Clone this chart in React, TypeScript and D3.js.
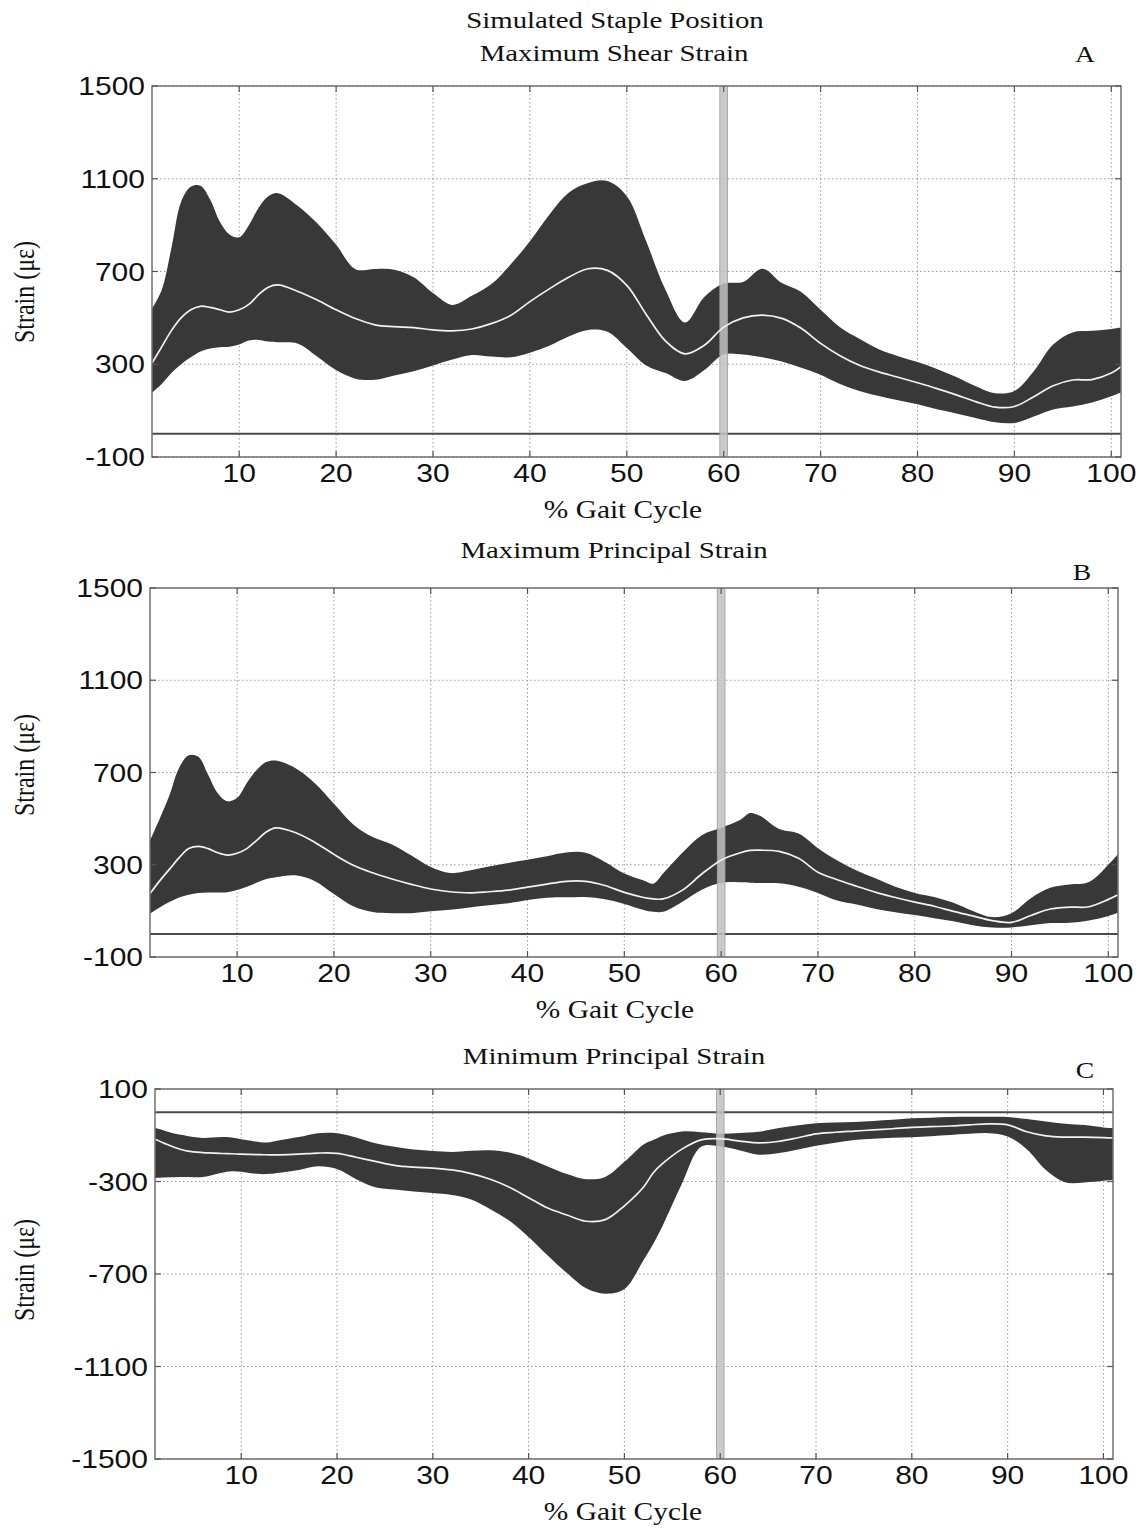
import React from 'react';
import * as d3 from 'd3';

// ---------- Data (gait %, strain in microstrain) ----------
const xTicks = [10, 20, 30, 40, 50, 60, 70, 80, 90, 100];
const yTicksAB = [-100, 300, 700, 1100, 1500];
const yTicksC = [100, -300, -700, -1100, -1500];

// Panel A: Maximum Shear Strain
const gaitA = [1,2,3,4,5,6,7,8,9,10,11,12,13,14,16,18,20,22,24,26,28,30,32,34,36,38,40,42,44,46,48,50,52,54,56,58,60,62,64,66,68,70,72,74,76,78,80,82,84,86,88,90,92,94,96,98,100,101];
const upperA = [540,620,800,1000,1065,1070,1010,915,860,848,900,975,1025,1038,985,910,815,710,711,708,675,607,556,595,645,730,830,945,1040,1082,1090,1025,830,620,480,590,648,655,712,650,612,535,460,410,365,335,310,280,245,205,175,185,270,385,437,444,452,458];
const meanA = [305,375,445,500,535,550,545,535,525,535,558,600,632,642,615,578,535,497,470,462,458,448,444,452,475,510,570,625,675,712,705,640,515,400,345,382,460,500,512,498,455,390,337,296,267,244,220,195,168,139,115,118,160,207,232,234,262,290];
const lowerA = [178,215,262,300,330,355,368,373,375,385,402,405,398,395,390,335,275,238,233,252,270,295,320,340,333,330,350,380,420,448,440,370,295,262,228,275,342,342,330,312,285,255,215,185,163,145,128,106,88,68,50,47,75,105,118,135,162,178];

// Panel B: Maximum Principal Strain
const gaitB = [1,2,3,4,5,6,7,8,9,10,11,12,13,14,16,18,20,22,24,26,28,30,32,34,36,38,40,42,44,46,48,50,52,53,54,56,58,60,62,63,64,66,68,70,72,74,76,78,80,82,84,86,88,90,92,94,96,98,100,101];
const upperB = [405,500,600,720,775,768,690,610,575,590,655,710,745,752,720,655,565,475,420,388,340,290,264,275,292,308,322,337,353,352,312,262,232,218,262,352,428,460,495,524,512,455,435,372,318,275,240,205,178,160,135,100,73,90,155,200,214,225,300,345];
const meanB = [175,230,280,330,370,380,370,352,342,350,370,405,442,460,440,398,345,298,265,238,215,195,183,178,183,190,203,216,228,228,210,180,158,152,152,190,260,320,352,362,363,358,328,268,235,207,180,158,138,120,98,78,58,50,80,108,116,118,150,170];
const lowerB = [88,115,138,158,170,177,180,180,181,190,205,222,238,246,254,230,173,120,95,90,90,98,105,115,124,133,147,157,159,160,150,130,104,96,96,140,192,222,224,222,221,220,205,178,145,128,108,94,82,68,55,38,28,28,38,47,48,58,78,92];

// Panel C: Minimum Principal Strain
const gaitC = [1,2,3,4,5,6,7,8,9,10,11,12,13,14,16,18,20,22,24,26,28,30,32,34,36,38,40,42,44,46,48,50,52,53,54,56,58,60,62,64,66,68,70,72,74,76,78,80,82,84,86,88,90,92,94,96,98,100,101];
const upperC = [-69,-80,-92,-100,-108,-112,-110,-108,-110,-117,-124,-130,-130,-122,-108,-91,-91,-110,-135,-150,-162,-168,-172,-167,-165,-175,-200,-235,-268,-290,-280,-215,-140,-121,-102,-84,-87,-93,-90,-85,-70,-58,-48,-45,-43,-38,-33,-27,-24,-21,-20,-20,-21,-30,-40,-50,-56,-66,-69];
const meanC = [-117,-135,-152,-165,-172,-175,-177,-179,-180,-182,-183,-184,-185,-185,-182,-177,-178,-195,-213,-230,-238,-242,-250,-266,-290,-325,-370,-415,-445,-472,-465,-405,-324,-263,-222,-160,-120,-115,-125,-133,-127,-112,-94,-87,-82,-77,-72,-66,-63,-60,-55,-51,-55,-85,-103,-108,-108,-110,-112];
const lowerC = [-285,-283,-282,-281,-282,-281,-272,-262,-256,-258,-264,-268,-267,-262,-250,-234,-246,-290,-325,-335,-343,-350,-358,-378,-420,-470,-540,-620,-696,-762,-785,-765,-639,-570,-490,-310,-150,-148,-165,-184,-178,-163,-145,-132,-121,-115,-111,-109,-104,-99,-94,-91,-105,-160,-250,-303,-304,-297,-294];

const stripX = [59.6, 60.4];

// ---------- Drawing ----------
const SANS = "'Liberation Sans', Arial, sans-serif";
const SERIF = "'Liberation Serif', 'Times New Roman', serif";
const SX = 1.2;

function SText({ x, y, anchor = 'start', size, family, children }: any) {
  return (
    <g transform={`translate(${x},${y}) scale(${SX},1)`}>
      <text x={0} y={0} textAnchor={anchor} fontSize={size} fontFamily={family} fill="#111">
        {children}
      </text>
    </g>
  );
}

function Panel(p: any) {
  const x = d3.scaleLinear().domain([1, 101]).range([p.left, p.right]);
  const y = d3.scaleLinear().domain(p.yDomain).range([p.bottom, p.top]);
  const rows = p.gait.map((g: number, i: number) => ({ g, u: p.upper[i], m: p.mean[i], l: p.lower[i] }));
  const curve = d3.curveCatmullRom.alpha(0.5);
  const area = d3.area<any>().x(d => x(d.g)).y0(d => y(d.l)).y1(d => y(d.u)).curve(curve);
  const line = d3.line<any>().x(d => x(d.g)).y(d => y(d.m)).curve(curve);
  const clipId = `clip-${p.id}`;
  const tl = 6;
  return (
    <g>
      <defs>
        <clipPath id={clipId}>
          <rect x={p.left} y={p.top} width={p.right - p.left} height={p.bottom - p.top} />
        </clipPath>
      </defs>
      <rect x={p.left} y={p.top} width={p.right - p.left} height={p.bottom - p.top} fill="#fff" />
      {xTicks.map(t => (
        <line key={'gx' + t} x1={x(t)} x2={x(t)} y1={p.top} y2={p.bottom} stroke="#9a9a9a" strokeWidth={1} strokeDasharray="1.5 2.5" />
      ))}
      {p.yTicks.map((t: number) => (
        <line key={'gy' + t} x1={p.left} x2={p.right} y1={y(t)} y2={y(t)} stroke="#9a9a9a" strokeWidth={1} strokeDasharray="1.5 2.5" />
      ))}
      <line x1={p.left} x2={p.right} y1={y(0)} y2={y(0)} stroke="#4a4a4a" strokeWidth={2} />
      <g clipPath={`url(#${clipId})`}>
        <path d={area(rows) as string} fill="#383838" />
        <rect x={x(stripX[0])} y={p.top} width={x(stripX[1]) - x(stripX[0])} height={p.bottom - p.top}
          fill="#c2c2c2" fillOpacity={0.85} stroke="#9c9c9c" strokeWidth={0.8} />
        <path d={line(rows) as string} fill="none" stroke="#f2f2f2" strokeWidth={1.7} />
      </g>
      <rect x={p.left} y={p.top} width={p.right - p.left} height={p.bottom - p.top} fill="none" stroke="#707070" strokeWidth={1.5} />
      {xTicks.map(t => (
        <g key={'tx' + t}>
          <line x1={x(t)} x2={x(t)} y1={p.bottom} y2={p.bottom - tl} stroke="#555" strokeWidth={1.2} />
          <line x1={x(t)} x2={x(t)} y1={p.top} y2={p.top + tl} stroke="#555" strokeWidth={1.2} />
          <SText x={x(t)} y={p.bottom + 25} anchor="middle" size={25} family={SANS}>{t}</SText>
        </g>
      ))}
      {p.yTicks.map((t: number) => (
        <g key={'ty' + t}>
          <line x1={p.left} x2={p.left + tl} y1={y(t)} y2={y(t)} stroke="#555" strokeWidth={1.2} />
          <line x1={p.right} x2={p.right - tl} y1={y(t)} y2={y(t)} stroke="#555" strokeWidth={1.2} />
          <SText x={p.left - 7} y={y(t) + 9} anchor="end" size={25} family={SANS}>{t}</SText>
        </g>
      ))}
      <SText x={p.xLabelX} y={p.bottom + 61} anchor="middle" size={24.5} family={SERIF}>% Gait Cycle</SText>
      <g transform={`translate(${p.yLabelX},${p.yLabelY}) rotate(-90) scale(1,1.2)`}>
        <text x={0} y={0} textAnchor="middle" fontSize={24} fontFamily={SERIF} fill="#111">Strain (με)</text>
      </g>
      {p.titles.map((tt: any, i: number) => (
        <SText key={'tt' + i} x={tt.x} y={tt.y} anchor="middle" size={24} family={SERIF}>{tt.text}</SText>
      ))}
      <SText x={p.letter.x} y={p.letter.y} anchor="middle" size={23} family={SERIF}>{p.letter.text}</SText>
    </g>
  );
}

export default function App() {
  return (
    <svg width={1145} height={1531} style={{ position: 'absolute', left: 0, top: 0, background: '#fff' }}>
      <rect x={0} y={0} width={1145} height={1531} fill="#fff" />
      <Panel id="A" left={152} right={1121} top={86} bottom={457} yDomain={[-100, 1500]} yTicks={yTicksAB}
        gait={gaitA} upper={upperA} mean={meanA} lower={lowerA}
        xLabelX={623} yLabelX={34} yLabelY={292}
        titles={[{ text: 'Simulated Staple Position', x: 615, y: 28 }, { text: 'Maximum Shear Strain', x: 614, y: 61 }]}
        letter={{ text: 'A', x: 1085, y: 62 }} />
      <Panel id="B" left={150} right={1118} top={588} bottom={957} yDomain={[-100, 1500]} yTicks={yTicksAB}
        gait={gaitB} upper={upperB} mean={meanB} lower={lowerB}
        xLabelX={615} yLabelX={34} yLabelY={765}
        titles={[{ text: 'Maximum Principal Strain', x: 614, y: 558 }]}
        letter={{ text: 'B', x: 1082, y: 580 }} />
      <Panel id="C" left={155} right={1113} top={1089} bottom={1459} yDomain={[-1500, 100]} yTicks={yTicksC}
        gait={gaitC} upper={upperC} mean={meanC} lower={lowerC}
        xLabelX={623} yLabelX={34} yLabelY={1270}
        titles={[{ text: 'Minimum Principal Strain', x: 614, y: 1064 }]}
        letter={{ text: 'C', x: 1085, y: 1078 }} />
    </svg>
  );
}
